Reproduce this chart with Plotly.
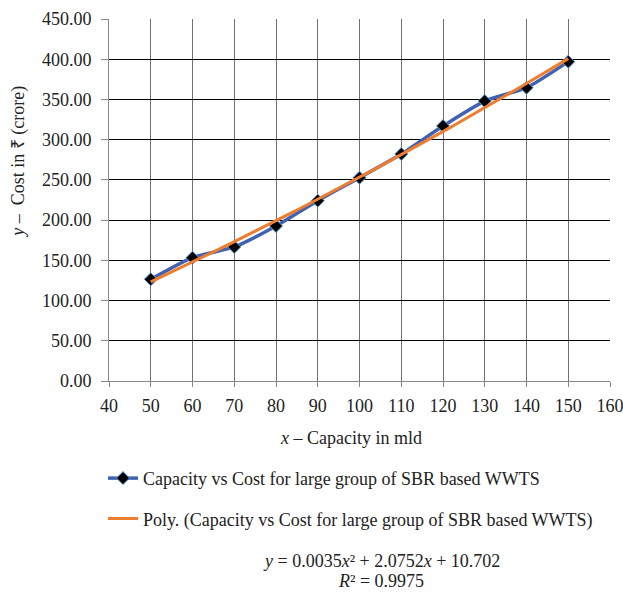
import plotly.graph_objects as go

capacity = [50, 60, 70, 80, 90, 100, 110, 120, 130, 140, 150]
cost = [126.4, 153.3, 166.6, 192.7, 224.2, 252.8, 282.2, 317.0, 348.0, 364.6, 397.0]
poly_coef = [0.0035, 2.0752, 10.702]
series_name = "Capacity vs Cost for large group of SBR based WWTS"
trend_name = "Poly. (Capacity vs Cost for large group of SBR based WWTS)"
equation = "<i>y</i> = 0.0035<i>x</i>² + 2.0752<i>x</i> + 10.702"
r2_text = "<i>R</i>² = 0.9975"
x_title = "<i>x</i> – Capacity in mld"
y_title = "<i>y</i> –  Cost in ₹ (crore)"

trend_x = [capacity[0] + i * (capacity[-1] - capacity[0]) / 100 for i in range(101)]
trend_y = [poly_coef[0] * x * x + poly_coef[1] * x + poly_coef[2] for x in trend_x]

font_family = "Liberation Serif, Times New Roman, serif"
fs = 18

fig = go.Figure()
fig.add_trace(go.Scatter(
    x=capacity, y=cost, mode="lines+markers", name=series_name,
    line=dict(color="#4062B0", width=3.5, shape="spline", smoothing=0.6),
    marker=dict(symbol="diamond", size=10, color="black",
                line=dict(color="#5B9BD5", width=1)),
    legendgroup="a",
))
fig.add_trace(go.Scatter(
    x=trend_x, y=trend_y, mode="lines", name=trend_name,
    line=dict(color="#ED7D31", width=3),
    legendgroup="b",
))

fig.update_layout(
    width=623, height=592,
    margin=dict(l=109, r=13, t=19, b=211, autoexpand=False),
    paper_bgcolor="white", plot_bgcolor="white",
    font=dict(family=font_family, size=fs, color="#222"),
    showlegend=True,
    legend=dict(
        x=-0.012, y=-0.218, xanchor="left", yanchor="top",
        orientation="v", traceorder="grouped", tracegroupgap=14,
        font=dict(family=font_family, size=fs, color="#222"),
        itemwidth=30, bgcolor="rgba(0,0,0,0)",
    ),
    xaxis=dict(
        range=[40, 160], dtick=10, tick0=40,
        showgrid=True, gridcolor="#707070", gridwidth=1.2,
        showline=True, linecolor="#888", linewidth=1,
        ticks="outside", ticklen=5, tickcolor="#888",
        ticklabelstandoff=3, ticklabeloverflow="allow",
        zeroline=False,
        tickfont=dict(family=font_family, size=fs),
    ),
    yaxis=dict(
        range=[0, 450], dtick=50, tickformat=".2f",
        showgrid=True, gridcolor="black", gridwidth=1,
        showline=True, linecolor="#888", linewidth=1,
        ticks="outside", ticklen=7, tickcolor="#888",
        ticklabelstandoff=6,
        zeroline=False,
        tickfont=dict(family=font_family, size=fs),
    ),
    annotations=[
        dict(text=x_title, xref="paper", yref="paper", x=0.483, y=-0.157,
             xanchor="center", yanchor="middle", showarrow=False,
             font=dict(family=font_family, size=fs)),
        dict(text=y_title, xref="paper", yref="paper", x=-0.18, y=0.605,
             xanchor="center", yanchor="middle", showarrow=False, textangle=-90,
             font=dict(family=font_family, size=fs)),
        dict(text=equation, xref="paper", yref="paper", x=0.543, y=-0.496,
             xanchor="center", yanchor="middle", showarrow=False,
             font=dict(family=font_family, size=fs)),
        dict(text=r2_text, xref="paper", yref="paper", x=0.543, y=-0.552,
             xanchor="center", yanchor="middle", showarrow=False,
             font=dict(family=font_family, size=fs)),
    ],
)

fig.write_html(
    "out.html",
    config={"displayModeBar": False},
    post_script="document.body.style.margin='0';document.body.style.overflow='hidden';",
)
